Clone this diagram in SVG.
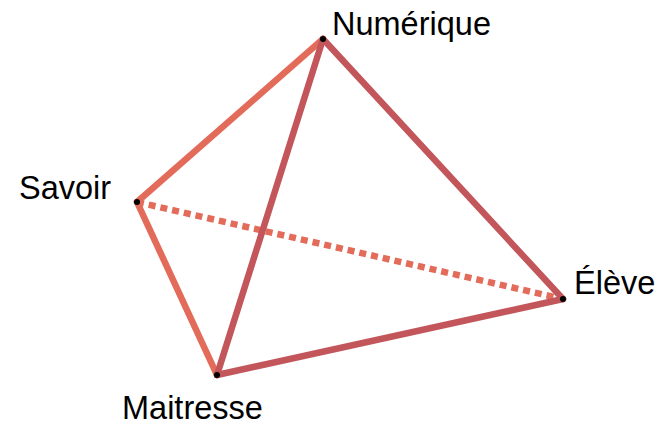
<svg xmlns="http://www.w3.org/2000/svg" width="655" height="428" viewBox="0 0 655 428">
<style>
.e{fill:none;stroke-width:6.5;stroke-linecap:round}
.l{stroke:#E36B5A}
.d{stroke:#C2565A}
.dash{stroke-dasharray:7 5;stroke-linecap:butt}
.dot{fill:#000}
text{font-family:"Liberation Sans",Arial,sans-serif;font-size:32.5px;fill:#000}
</style>
<rect width="655" height="428" fill="#fff"/>
<g id="connectors">
<line class="e l dash" x1="137" y1="202" x2="563" y2="299"/>
<line class="e l" x1="137" y1="202" x2="323" y2="39"/>
<line class="e l" x1="137" y1="202" x2="217" y2="375"/>
<line class="e d" x1="323" y1="39" x2="217" y2="375"/>
<line class="e d" x1="323" y1="39" x2="563" y2="299"/>
<line class="e d" x1="217" y1="375" x2="563" y2="299"/>
</g>
<g id="numerique"><circle class="dot" cx="323" cy="39" r="3"/><text x="332" y="35">Numérique</text></g>
<g id="savoir"><circle class="dot" cx="137" cy="202" r="3"/><text x="19" y="199">Savoir</text></g>
<g id="eleve"><circle class="dot" cx="563" cy="299" r="3"/><text x="574" y="294">Élève</text></g>
<g id="maitresse"><circle class="dot" cx="217" cy="375" r="3"/><text x="122" y="419">Maitresse</text></g>
</svg>
